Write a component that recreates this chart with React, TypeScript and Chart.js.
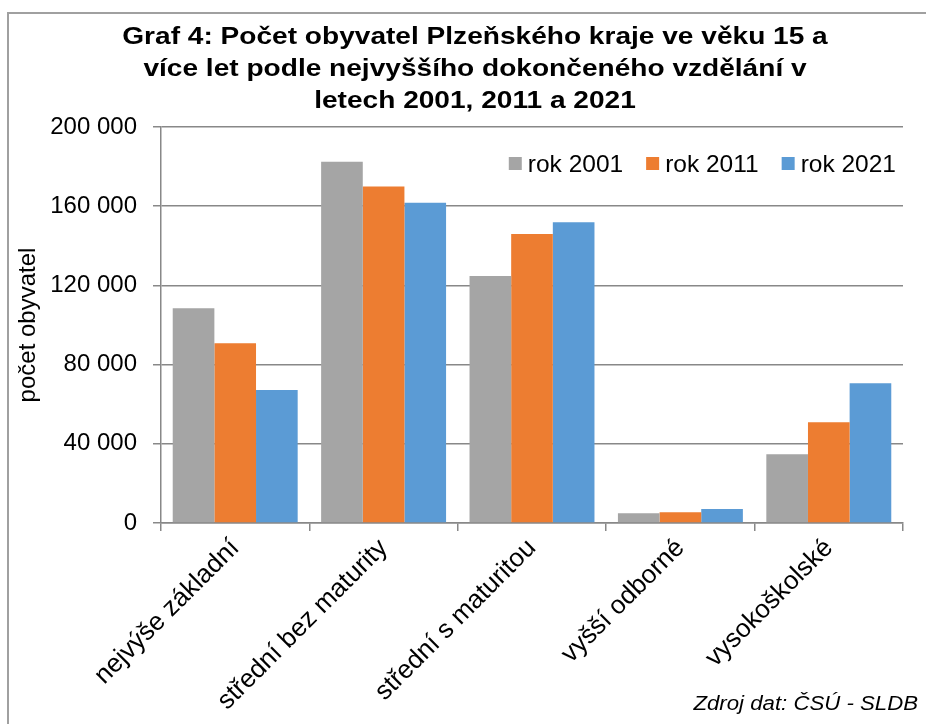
import React, { useEffect, useRef } from "react";
import { Chart, registerables } from "chart.js";

Chart.register(...registerables);

const titleLines = [
  "Graf 4: Počet obyvatel Plzeňského kraje ve věku 15 a",
  "více let podle nejvyššího dokončeného vzdělání v",
  "letech 2001, 2011 a 2021",
];
const categories = [
  "nejvýše základní",
  "střední bez maturity",
  "střední s maturitou",
  "vyšší odborné",
  "vysokoškolské",
];
const seriesLabels = ["rok 2001", "rok 2011", "rok 2021"];
const values2001 = [108400, 182500, 124700, 4900, 34700];
const values2011 = [90800, 169900, 146000, 5400, 50900];
const values2021 = [67200, 161800, 151900, 7100, 70600];
const seriesColors = ["#A5A5A5", "#ED7D31", "#5B9BD5"];
const yTicks = [0, 40000, 80000, 120000, 160000, 200000];
const yTitle = "počet obyvatel";
const sourceText = "Zdroj dat: ČSÚ - SLDB";

const FONT = "'Liberation Sans', Arial, Helvetica, sans-serif";

const fmt = (v: number) => String(v).replace(/\B(?=(\d{3})+(?!\d))/g, " ");

const decorPlugin = {
  id: "decor",
  beforeDraw(chart: any) {
    const ctx = chart.ctx;
    ctx.save();
    ctx.fillStyle = "#ffffff";
    ctx.fillRect(0, 0, chart.width, chart.height);
    ctx.strokeStyle = "#a0a0a0";
    ctx.lineWidth = 2;
    ctx.beginPath();
    ctx.moveTo(8, chart.height);
    ctx.lineTo(8, 13);
    ctx.lineTo(chart.width, 13);
    ctx.stroke();
    ctx.restore();
  },
  afterDraw(chart: any) {
    const ctx = chart.ctx;
    // title (slightly wide lettering, as in the reference)
    ctx.save();
    ctx.fillStyle = "#000";
    ctx.font = `bold 24px ${FONT}`;
    ctx.textAlign = "center";
    ctx.textBaseline = "alphabetic";
    ctx.translate(475, 0);
    ctx.scale(1.17, 1);
    titleLines.forEach((t, i) => ctx.fillText(t, 0, 44 + i * 32));
    ctx.restore();
    // legend
    ctx.save();
    ctx.font = `24.5px ${FONT}`;
    ctx.textAlign = "left";
    ctx.textBaseline = "alphabetic";
    const widths = chart.data.datasets.map((d: any) => ctx.measureText(d.label).width);
    const sq = 13, gapSq = 6, gapItem = 23;
    let total = 0;
    widths.forEach((w: number, i: number) => {
      total += sq + gapSq + w + (i < widths.length - 1 ? gapItem : 0);
    });
    let x = 896 - total;
    chart.data.datasets.forEach((d: any, i: number) => {
      ctx.fillStyle = d.backgroundColor;
      ctx.fillRect(x, 157, sq, sq);
      ctx.fillStyle = "#000";
      ctx.fillText(d.label, x + sq + gapSq, 172);
      x += sq + gapSq + widths[i] + gapItem;
    });
    ctx.restore();
    // source
    ctx.save();
    ctx.fillStyle = "#000";
    ctx.font = `italic 20px ${FONT}`;
    ctx.textAlign = "right";
    ctx.translate(918, 0);
    ctx.scale(1.11, 1);
    ctx.fillText(sourceText, 0, 710);
    ctx.restore();
  },
};

export default function App() {
  const ref = useRef<HTMLCanvasElement>(null);
  useEffect(() => {
    if (!ref.current) return;
    const seriesValues = [values2001, values2011, values2021];
    const chart = new Chart(ref.current, {
      type: "bar",
      data: {
        labels: categories,
        datasets: seriesLabels.map((label, i) => ({
          label,
          data: seriesValues[i],
          backgroundColor: seriesColors[i],
          borderWidth: 0,
          categoryPercentage: 0.842,
          barPercentage: 1,
        })),
      },
      options: {
        animation: false,
        responsive: false,
        devicePixelRatio: 1,
        layout: { padding: { top: 127, right: 23, left: 0, bottom: 0 } },
        plugins: {
          legend: { display: false },
          title: { display: false },
          tooltip: { enabled: false },
        },
        scales: {
          x: {
            offset: true,
            grid: {
              offset: true,
              drawOnChartArea: false,
              drawTicks: true,
              tickLength: 8,
              color: "#888",
              lineWidth: 1.5,
            },
            border: { display: true, color: "#888", width: 1.5 },
            ticks: {
              color: "#000",
              font: { family: FONT, size: 26 },
              maxRotation: 45,
              minRotation: 45,
              padding: 2,
              autoSkip: false,
            },
            afterFit: (s: any) => {
              s.height = 724 - 523;
            },
          },
          y: {
            min: 0,
            max: 200000,
            afterBuildTicks: (s: any) => {
              s.ticks = yTicks.map((v) => ({ value: v }));
            },
            grid: {
              color: "#888",
              lineWidth: 1.5,
              drawTicks: true,
              tickLength: 8,
            },
            border: { display: true, color: "#888", width: 1.5 },
            ticks: {
              color: "#000",
              font: { family: FONT, size: 24 },
              padding: 16,
              callback: (v: any) => fmt(Number(v)),
            },
            title: {
              display: true,
              text: yTitle,
              color: "#000",
              font: { family: FONT, size: 24 },
              padding: { top: 14, bottom: 0 },
            },
            afterFit: (s: any) => {
              s.width = 161;
            },
          },
        },
      },
      plugins: [decorPlugin],
    });
    return () => chart.destroy();
  }, []);
  return (
    <div style={{ position: "fixed", left: 0, top: 0, width: 926, height: 724, background: "#fff" }}>
      <canvas ref={ref} width={926} height={724} style={{ width: 926, height: 724, display: "block" }} />
    </div>
  );
}
